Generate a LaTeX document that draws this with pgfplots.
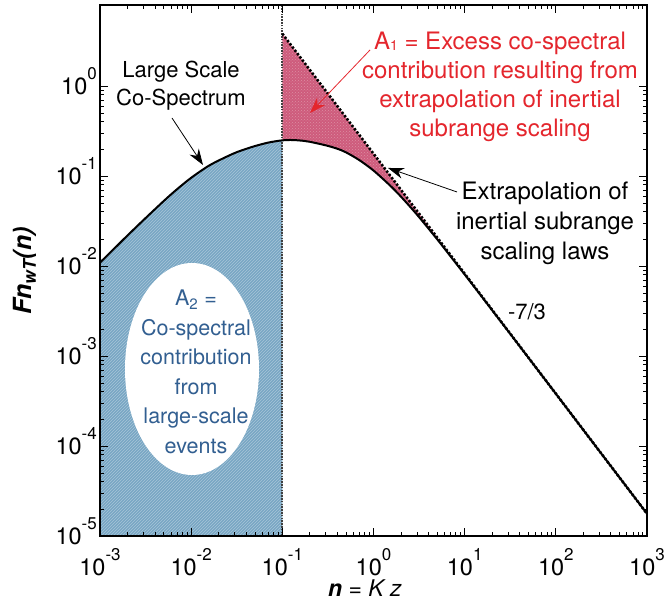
\documentclass[border=0pt]{standalone}
\usepackage{pgfplots}
\pgfplotsset{compat=1.18}
\usepackage{fontspec}
\setmainfont{TeX Gyre Heros}
\usetikzlibrary{arrows.meta,patterns}
\definecolor{bluefill}{RGB}{120,166,196}
\definecolor{redfill}{RGB}{206,92,124}
\definecolor{redtext}{RGB}{228,38,45}
\definecolor{bluetext}{RGB}{50,95,145}
\newcommand\ex[1]{10\raisebox{15pt}{\fontsize{17}{17}\selectfont #1}}
\newcommand\fs[2]{\fontsize{#1}{#2}\selectfont}
\begin{document}
\begin{tikzpicture}[x=1pt,y=1pt]
\begin{axis}[
  at={(100pt,68pt)}, anchor=south west,
  width=547pt, height=531pt, scale only axis,
  xmode=log, ymode=log,
  xmin=1e-3, xmax=1e3, ymin=1e-5, ymax=7.943,
  xtick={1e-3,1e-2,1e-1,1,10,100,1000},
  xticklabels={\ex{-3},\ex{-2},\ex{-1},\ex{0},\ex{1},\ex{2},\ex{3}},
  ytick={1e-5,1e-4,1e-3,1e-2,1e-1,1},
  yticklabels={\ex{-5},\ex{-4},\ex{-3},\ex{-2},\ex{-1},\ex{0}},
  ticklabel style={font=\fs{23.5}{23.5}},
  xticklabel style={anchor=base, yshift=-39pt, inner sep=0pt},
  yticklabel style={anchor=base east, yshift=-8.5pt, xshift=-3pt, inner sep=0pt},
  tick align=inside,
  major tick length=8pt, minor tick length=4pt,
  every tick/.style={black, line width=0.7pt},
  axis line style={line width=1.2pt},
  axis on top,
]
% large-scale co-spectrum area A2
\addplot[draw=none, fill=bluefill] coordinates {
(0.001,0.00001) (0.001,0.0109) (0.0015,0.01635) (0.002,0.0218) (0.003,0.0324)
(0.005,0.0527) (0.007,0.0713) (0.01,0.0955) (0.015,0.1268) (0.02,0.1485)
(0.03,0.1800) (0.04,0.2000) (0.05,0.2150) (0.07,0.2350) (0.1,0.2490) (0.1,0.00001)
} -- cycle;
\addplot[draw=none, pattern=north east lines, pattern color=white, opacity=0.35] coordinates {
(0.001,0.00001) (0.001,0.0109) (0.0015,0.01635) (0.002,0.0218) (0.003,0.0324)
(0.005,0.0527) (0.007,0.0713) (0.01,0.0955) (0.015,0.1268) (0.02,0.1485)
(0.03,0.1800) (0.04,0.2000) (0.05,0.2150) (0.07,0.2350) (0.1,0.2490) (0.1,0.00001)
} -- cycle;
% excess area A1
\addplot[draw=none, fill=redfill] coordinates {
(0.1,3.813) (20,0.00326) (20,0.00323) (15,0.00473) (10,0.00806) (7,0.0128)
(5,0.0198) (3,0.0372) (2,0.0590) (1.5,0.0794) (1,0.1150) (0.7,0.1500)
(0.5,0.1830) (0.4,0.2010) (0.3,0.2190) (0.2,0.2400) (0.17,0.2460) (0.13,0.2510) (0.1,0.2490)
} -- cycle;
\addplot[draw=none, pattern=crosshatch dots, pattern color=white, opacity=0.3] coordinates {
(0.1,3.813) (20,0.00326) (20,0.00323) (15,0.00473) (10,0.00806) (7,0.0128)
(5,0.0198) (3,0.0372) (2,0.0590) (1.5,0.0794) (1,0.1150) (0.7,0.1500)
(0.5,0.1830) (0.4,0.2010) (0.3,0.2190) (0.2,0.2400) (0.17,0.2460) (0.13,0.2510) (0.1,0.2490)
} -- cycle;
% vertical separation at n = 0.1
\addplot[black!75, line width=1.8pt, dash pattern=on 1.6pt off 1.2pt] coordinates {(0.1,0.00001) (0.1,7.943)};
% co-spectrum
\addplot[black, line width=2pt, smooth] table {
n y
0.001 0.0109
0.0015 0.01635
0.002 0.0218
0.003 0.0324
0.005 0.0527
0.007 0.0713
0.01 0.0955
0.015 0.1268
0.02 0.1485
0.03 0.1800
0.04 0.2000
0.05 0.2150
0.07 0.2350
0.1 0.2490
0.13 0.2510
0.17 0.2460
0.2 0.2400
0.3 0.2190
0.4 0.2010
0.5 0.1830
0.7 0.1500
1 0.1150
1.5 0.0794
2 0.0590
3 0.0372
5 0.0198
7 0.0128
10 0.00806
15 0.00473
20 0.00323
30 0.00189
50 0.000958
100 0.000381
200 0.000151
500 0.0000446
1000 0.0000177
};
% inertial subrange extrapolation (-7/3 law)
\addplot[black, line width=2.6pt, dash pattern=on 2.3pt off 1.8pt] coordinates {(0.1,3.813) (1000,0.0000177)};
\end{axis}
\fill[white] (192,235) ellipse [x radius=67, y radius=106];
\node[align=center, font=\fs{21.5}{29.5}, text=bluetext] at (196,232) {A\textsubscript{2} =\\Co-spectral\\contribution\\from\\large-scale\\events};
\node[align=center, font=\fs{22}{28}] at (181,518) {Large Scale\\Co-Spectrum};
\node[align=center, font=\fs{24}{29}, text=redtext] at (500,517) {A\raisebox{-1pt}{\fs{14}{14}1} = Excess co-spectral\\contribution resulting from\\extrapolation of inertial\\subrange scaling};
\node[align=center, font=\fs{24}{30}] at (545,381) {Extrapolation of\\inertial subrange\\scaling laws};
\node[font=\fs{22}{22}] at (527,292) {-7/3};
\node[rotate=90, font=\fs{25}{25}] at (25,333) {\bfseries\itshape Fn\textsubscript{wT}(n)};
\node[font=\fs{23}{23}, inner sep=0pt, anchor=base] at (365,7) {\textbf{\textit{n}} = \textit{K z}};
\draw[-{Stealth[length=16pt,width=11pt]}, line width=0.8pt] (172,486) -- (203,439);
\draw[redtext, -{Stealth[length=16pt,width=11pt]}, line width=0.8pt] (370,554) -- (310,491);
\draw[-{Stealth[length=16pt,width=11pt]}, line width=0.8pt] (457,412) -- (388,436);
\pgfresetboundingbox
\path[use as bounding box] (0,0) rectangle (664,604);
\end{tikzpicture}
\end{document}
